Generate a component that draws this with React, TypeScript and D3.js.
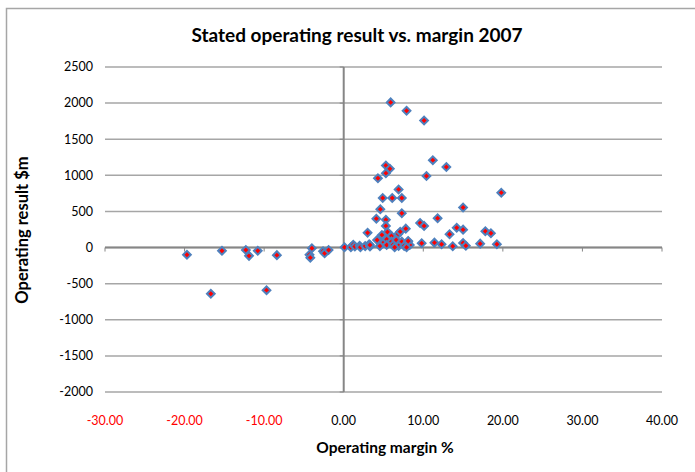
import React, { useRef, useEffect } from "react";
import * as d3 from "d3";

// Operating margin % (x) and operating result $m (y)
const marginPct = [
  -19.7, -16.7, -15.3, -12.3, -11.9, -10.8, -9.7, -8.4, -4.3, -4.2, -4.0, -2.6, -2.4, -1.9,
  0.1, 0.9, 1.2, 1.4, 2.0, 2.1, 2.7, 3.2, 3.3, 3.3,
  5.9, 7.9, 10.1, 11.2, 12.9, 5.3, 5.8, 5.3, 4.3, 10.4, 6.9, 4.9, 6.1, 7.3, 19.8, 4.6,
  7.3, 15.0, 4.1, 5.3, 11.8, 9.6, 10.1, 5.3, 7.8, 14.2, 15.0, 13.3, 17.8, 18.5, 3.0,
  5.5, 4.8, 6.0, 6.85, 7.1, 4.3, 5.0, 5.4, 6.0, 6.6, 7.3, 8.1, 4.2, 4.55, 5.4, 6.2,
  6.9, 7.6, 8.3, 6.4, 7.9, 9.8, 11.4, 12.3, 13.7, 15.0, 15.35, 17.15, 19.25, 8.1,
];
const resultM = [
  -100, -640, -45, -35, -115, -45, -590, -105, -100, -140, -10, -50, -80, -35,
  5, 5, 40, 15, 25, 5, 20, 45, 15, 35,
  2010, 1895, 1760, 1210, 1115, 1135, 1090, 1030, 960, 990, 805, 685, 685, 685, 760, 530,
  475, 555, 400, 385, 405, 340, 300, 300, 262, 275, 248, 185, 225, 198, 205,
  215, 175, 160, 188, 220, 100, 68, 115, 82, 105, 82, 82, 105, 20, 36, 36,
  22, 22, 36, 5, 5, 60, 68, 46, 18, 64, 26, 54, 46, 91,
];

const xTicks = [-30, -20, -10, 0, 10, 20, 30, 40];
const yTicks = [-2000, -1500, -1000, -500, 0, 500, 1000, 1500, 2000, 2500];

const title = "Stated operating result vs. margin 2007";
const xTitle = "Operating margin %";
const yTitle = "Operating result $m";

const App = () => {
  const ref = useRef<SVGSVGElement>(null);

  useEffect(() => {
    const width = 695;
    const height = 472;
    const plot = { left: 105, right: 662, top: 67, bottom: 392 };
    const font = "Lato, 'Open Sans', sans-serif";

    const svg = d3.select(ref.current).attr("width", width).attr("height", height);
    svg.selectAll("*").remove();

    // chart frame
    svg
      .append("rect")
      .attr("x", 6.5)
      .attr("y", 8.5)
      .attr("width", 700)
      .attr("height", 470)
      .attr("fill", "white")
      .attr("stroke", "#a6a6a6")
      .attr("stroke-width", 1.5);

    const x = d3.scaleLinear().domain([-30, 40]).range([plot.left, plot.right]);
    const y = d3.scaleLinear().domain([-2000, 2500]).range([plot.bottom, plot.top]);

    // horizontal gridlines
    svg
      .append("g")
      .selectAll("line")
      .data(yTicks)
      .join("line")
      .attr("x1", plot.left)
      .attr("x2", plot.right)
      .attr("y1", (d) => y(d))
      .attr("y2", (d) => y(d))
      .attr("stroke", "#a6a6a6")
      .attr("stroke-width", 1.5);

    // y tick labels
    svg
      .append("g")
      .selectAll("text")
      .data(yTicks)
      .join("text")
      .attr("x", 93)
      .attr("y", (d) => y(d))
      .attr("dy", "0.35em")
      .attr("text-anchor", "end")
      .attr("font-family", font)
      .attr("font-size", 12.5)
      .attr("fill", "#000")
      .text((d) => d);

    // x axis (y = 0) and y axis (x = 0)
    svg
      .append("line")
      .attr("x1", plot.left)
      .attr("x2", plot.right)
      .attr("y1", y(0))
      .attr("y2", y(0))
      .attr("stroke", "#868686")
      .attr("stroke-width", 2);
    svg
      .append("g")
      .selectAll("line")
      .data(xTicks)
      .join("line")
      .attr("x1", (d) => x(d))
      .attr("x2", (d) => x(d))
      .attr("y1", y(0))
      .attr("y2", y(0) + 4)
      .attr("stroke", "#868686")
      .attr("stroke-width", 1);
    svg
      .append("line")
      .attr("x1", x(0))
      .attr("x2", x(0))
      .attr("y1", plot.top)
      .attr("y2", plot.bottom)
      .attr("stroke", "#868686")
      .attr("stroke-width", 2);
    svg
      .append("g")
      .selectAll("line")
      .data(yTicks)
      .join("line")
      .attr("x1", x(0) - 4)
      .attr("x2", x(0))
      .attr("y1", (d) => y(d))
      .attr("y2", (d) => y(d))
      .attr("stroke", "#868686")
      .attr("stroke-width", 1);

    // x tick labels (negatives in red)
    svg
      .append("g")
      .selectAll("text")
      .data(xTicks)
      .join("text")
      .attr("x", (d) => x(d))
      .attr("y", 425)
      .attr("text-anchor", "middle")
      .attr("font-family", font)
      .attr("font-size", 12.5)
      .attr("fill", (d) => (d < 0 ? "#ff0000" : "#000"))
      .text((d) => d.toFixed(2));

    // markers
    const pts = marginPct.map((m, i) => ({ m, r: resultM[i] }));
    const diamond = d3.symbol().type(d3.symbolSquare).size(30);
    svg
      .append("g")
      .selectAll("path")
      .data(pts)
      .join("path")
      .attr("d", diamond)
      .attr("transform", (d) => `translate(${x(d.m)},${y(d.r)}) rotate(45)`)
      .attr("fill", "#ff0000")
      .attr("stroke", "#4f81bd")
      .attr("stroke-width", 2);

    // titles
    svg
      .append("text")
      .attr("x", 357)
      .attr("y", 42)
      .attr("text-anchor", "middle")
      .attr("font-family", font)
      .attr("font-weight", "bold")
      .attr("font-size", 19)
      .text(title);
    svg
      .append("text")
      .attr("x", 385)
      .attr("y", 453)
      .attr("text-anchor", "middle")
      .attr("font-family", font)
      .attr("font-weight", "bold")
      .attr("font-size", 15.5)
      .text(xTitle);
    svg
      .append("text")
      .attr("transform", "translate(28,230) rotate(-90)")
      .attr("text-anchor", "middle")
      .attr("font-family", font)
      .attr("font-weight", "bold")
      .attr("font-size", 16.5)
      .text(yTitle);
  }, []);

  return (
    <div style={{ position: "absolute", left: 0, top: 0 }}>
      <svg ref={ref} style={{ display: "block" }}></svg>
    </div>
  );
};

export default App;
